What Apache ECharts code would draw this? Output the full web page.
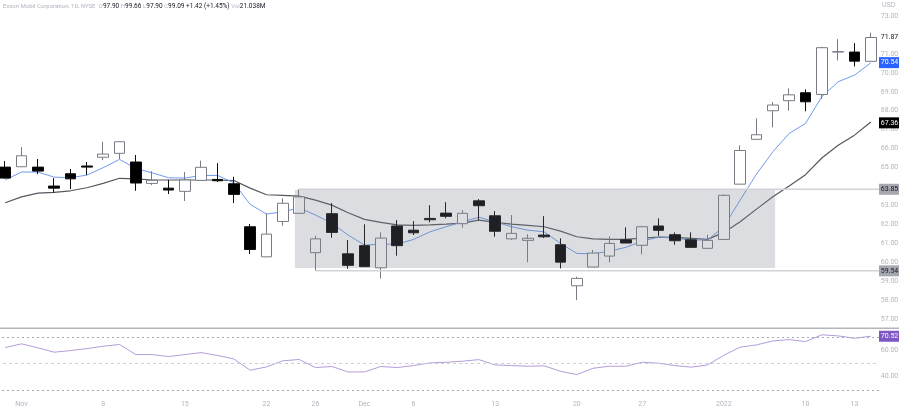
<!DOCTYPE html>
<html>
<head>
<meta charset="utf-8">
<style>
  html, body { margin: 0; padding: 0; background: #fff; }
  #chart { width: 899px; height: 409px; }
</style>
<script src="https://cdn.jsdelivr.net/npm/echarts@6/dist/echarts.min.js"></script>
</head>
<body>
<div id="chart"></div>
<script>
// date labels, one per session, blank where the time axis shows nothing
const dateLabels = ['', 'Nov', '', '', '', '', '8', '', '', '', '', '15', '', '', '', '', '22', '', '', '26', '', '',
  'Dec', '', '', '6', '', '', '', '', '13', '', '', '', '', '20', '', '', '', '27', '', '', '', '', '2022', '', '', '', '', '10', '', '', '13', ''];

const opens = [65.02, 65.04, 65.02, 64.02, 64.67, 65.08, 65.54, 65.75, 65.29, 64.16, 63.91, 63.74, 64.32, 64.37, 64.14, 61.87, 60.28, 62.15,
  62.58, 60.50, 62.56, 60.44, 60.87, 59.70, 61.91, 61.69, 62.31, 62.59, 62.03, 63.24, 62.45, 61.23, 61.15, 61.43, 60.92, 58.75,
  59.74, 60.32, 61.18, 60.89, 61.91, 61.45, 61.18, 60.73, 61.20, 64.12, 66.49, 68.00, 68.53, 68.95, 68.86, 71.10, 71.10, 70.61];
const closes = [64.44, 65.62, 64.81, 63.91, 64.40, 65.02, 65.71, 66.36, 64.18, 64.32, 63.81, 64.34, 65.01, 64.30, 63.58, 60.67, 61.48, 63.11,
  63.45, 61.23, 61.57, 59.83, 59.76, 61.27, 60.87, 61.55, 62.24, 62.42, 62.58, 62.98, 61.63, 61.52, 61.26, 61.34, 60.00, 59.14,
  60.48, 60.99, 61.01, 61.87, 61.68, 61.13, 60.78, 61.15, 63.53, 65.90, 66.73, 68.30, 68.84, 68.47, 71.33, 71.12, 70.62, 71.87];
const lows = [64.40, 65.04, 64.65, 63.67, 63.86, 64.60, 65.39, 65.45, 63.77, 64.07, 63.60, 63.23, 64.32, 64.23, 63.12, 60.43, 60.28, 61.92,
  62.58, 59.54, 61.29, 59.65, 59.76, 59.14, 60.34, 61.43, 62.10, 62.31, 61.82, 62.22, 61.34, 61.18, 59.99, 61.27, 59.67, 57.99,
  59.74, 59.99, 61.01, 60.41, 61.39, 60.92, 60.78, 60.73, 61.20, 64.12, 66.49, 67.12, 68.00, 67.97, 68.62, 70.66, 70.34, 70.61];
const highs = [65.34, 66.08, 65.45, 64.44, 64.92, 65.29, 66.36, 66.36, 65.66, 64.81, 64.34, 64.76, 65.36, 65.23, 64.51, 62.01, 62.58, 63.37,
  63.85, 61.39, 63.12, 61.17, 62.00, 61.57, 62.22, 62.17, 63.01, 63.17, 62.75, 63.33, 62.70, 62.49, 61.47, 62.43, 61.26, 59.23,
  60.64, 61.36, 61.84, 61.91, 62.31, 61.57, 61.57, 61.45, 63.58, 66.17, 67.60, 68.46, 69.18, 69.13, 71.38, 71.78, 71.57, 72.12];

const fastMa = [64.34, 64.76, 64.76, 64.49, 64.46, 64.60, 64.99, 65.43, 64.95, 64.72, 64.46, 64.44, 64.58, 64.58, 64.19, 63.05, 62.54, 62.66,
  62.86, 62.49, 62.05, 61.43, 60.90, 60.95, 60.95, 61.20, 61.60, 61.87, 62.13, 62.37, 62.13, 61.87, 61.69, 61.60, 60.99, 60.46,
  60.44, 60.58, 60.78, 61.11, 61.32, 61.27, 61.17, 61.17, 61.87, 63.28, 64.65, 65.83, 66.80, 67.33, 68.74, 69.53, 69.88, 70.53];
const slowMa = [63.14, 63.45, 63.65, 63.69, 63.77, 63.93, 64.16, 64.43, 64.40, 64.34, 64.34, 64.34, 64.34, 64.34, 64.31, 63.91, 63.56, 63.53,
  63.49, 63.28, 63.01, 62.61, 62.26, 62.10, 61.97, 61.94, 61.97, 62.01, 62.06, 62.22, 62.10, 62.01, 61.94, 61.87, 61.64, 61.34,
  61.23, 61.20, 61.20, 61.27, 61.32, 61.31, 61.26, 61.20, 61.57, 62.13, 62.80, 63.45, 64.02, 64.62, 65.50, 66.18, 66.71, 67.40];
const rsi = [62, 64.8, 61.8, 58.5, 59.7, 61.2, 63, 64.3, 56.7, 56.7, 55.2, 56.7, 58.2, 56, 53.4, 44.9, 47.4, 52,
  53, 46.9, 47.7, 43.6, 43.6, 47.7, 46.9, 48.4, 50.4, 50.9, 51.7, 52.9, 48.9, 48.4, 47.9, 48.2, 44.1, 41.6,
  46.4, 47.9, 47.9, 50.9, 50.2, 48.4, 47.2, 48.9, 56.2, 62.3, 64, 67, 68, 66.5, 71.6, 70.8, 69, 70.52];

const priceTicks = [73, 71, 70, 69, 68, 67, 66, 65, 63, 62, 61, 60, 59, 58, 57];
const rsiTicks = [60, 40];
const rsiLevels = [70, 50, 30];

// session index, price: drawn zone and the two support / resistance levels
const zoneX = [17.74, 47.14];
const zoneY = [63.81, 59.69];
const topLevel = [[18, 63.85], [53.5, 63.85]];
const bottomLevel = [[19, 59.54], [53.5, 59.54]];

const candles = opens.map((o, i) => [o, closes[i], lows[i], highs[i]]);

const tagStyle = { width: 21, height: 11, lineHeight: 11, align: 'center', fontSize: 7, fontFamily: 'Roboto' };
const priceRich = {
  plain: { ...tagStyle, color: '#b2b5be' },
  last: { ...tagStyle, color: '#131722' },
  blue: { ...tagStyle, color: '#fff', backgroundColor: '#2962ff' },
  black: { ...tagStyle, color: '#fff', backgroundColor: '#000' },
  grey: { ...tagStyle, color: '#131722', backgroundColor: '#a6a8b0' },
  purple: { ...tagStyle, color: '#fff', backgroundColor: '#7e57c2' },
};
const priceTags = { 71.87: 'last', 70.54: 'blue', 67.36: 'black', 63.85: 'grey', 59.54: 'grey' };

const chart = echarts.init(document.getElementById('chart'));
chart.setOption({
  animation: false,
  backgroundColor: '#fff',
  title: [
    {
      left: 3,
      top: 3,
      padding: 0,
      text: '{g|Exxon Mobil Corporation, 1D, NYSE}  {g|O}97.90 {g|H}99.66 {g|L}97.90 {g|C}99.09 +1.42 (+1.45%) {g|Vol}21.038M',
      textStyle: {
        fontFamily: 'Roboto',
        fontSize: 6.5,
        fontWeight: 'normal',
        color: '#131722',
        rich: { g: { color: '#b2b5be', fontFamily: 'Roboto', fontSize: 6 } },
      },
    },
    {
      left: 882,
      top: 2,
      padding: 0,
      text: 'USD',
      textStyle: { fontFamily: 'Roboto', fontSize: 7, fontWeight: 'normal', color: '#b2b5be' },
    },
  ],
  // outerBoundsMode off so the grid may start just left of the canvas
  grid: [
    { left: -3, top: 0, width: 882, height: 328, outerBoundsMode: 'none' },
    { left: -3, top: 329, width: 882, height: 66.25, outerBoundsMode: 'none' },
  ],
  xAxis: [
    { type: 'category', gridIndex: 0, data: dateLabels, show: false },
    {
      type: 'category',
      gridIndex: 1,
      data: dateLabels,
      axisLine: { show: false },
      axisTick: { show: false },
      axisLabel: { interval: 0, margin: 5, fontSize: 7, fontFamily: 'Roboto', color: '#b2b5be' },
    },
    // hidden numeric axis on the session index, for things that sit between candles
    { type: 'value', gridIndex: 0, min: -0.5, max: 53.5, show: false },
  ],
  yAxis: [
    {
      type: 'value',
      gridIndex: 0,
      position: 'right',
      min: 56.52,
      max: 73.85,
      splitLine: { show: false },
      axisLine: { show: false },
      axisTick: { show: false },
      axisLabel: {
        customValues: priceTicks.concat([71.87, 70.54, 67.36, 63.85, 59.54]),
        hideOverlap: false,
        margin: 0,
        formatter: (v) => `{${priceTags[v] || 'plain'}|${v.toFixed(2)}}`,
        rich: priceRich,
      },
    },
    {
      type: 'value',
      gridIndex: 1,
      position: 'right',
      min: 26,
      max: 76,
      splitLine: { show: false },
      axisLine: { show: false },
      axisTick: { show: false },
      axisLabel: {
        customValues: rsiTicks.concat([70.52]),
        hideOverlap: false,
        margin: 0,
        formatter: (v) => `{${v === 70.52 ? 'purple' : 'plain'}|${v.toFixed(2)}}`,
        rich: priceRich,
      },
    },
  ],
  series: [
    {
      name: 'slow',
      type: 'line',
      data: slowMa,
      z: 2,
      showSymbol: false,
      lineStyle: { color: '#55585f', width: 1.2 },
    },
    {
      name: 'fast',
      type: 'line',
      data: fastMa,
      z: 2,
      showSymbol: false,
      lineStyle: { color: '#6f9cf0', width: 1 },
    },
    {
      name: 'price',
      type: 'candlestick',
      data: candles,
      z: 3,
      barWidth: 11,
      itemStyle: {
        color: '#fff',
        color0: '#000',
        borderColor: '#787b86',
        borderColor0: '#0c0c0c',
        borderWidth: 1,
      },
    },
    {
      name: 'top level',
      type: 'line',
      xAxisIndex: 2,
      data: topLevel,
      z: 4,
      showSymbol: false,
      lineStyle: { color: '#d1d3d8', width: 1.5 },
    },
    {
      name: 'bottom level',
      type: 'line',
      xAxisIndex: 2,
      data: bottomLevel,
      z: 4,
      showSymbol: false,
      lineStyle: { color: '#d1d3d8', width: 1.5 },
    },
    {
      name: 'zone',
      type: 'line',
      xAxisIndex: 2,
      data: [[zoneX[0], zoneY[0]], [zoneX[1], zoneY[1]]],
      z: 5,
      showSymbol: false,
      lineStyle: { opacity: 0 },
      markArea: {
        silent: true,
        z: 5,
        itemStyle: { color: 'rgba(120,123,134,0.26)' },
        data: [[{ coord: [zoneX[0], zoneY[0]] }, { coord: [zoneX[1], zoneY[1]] }]],
      },
    },
    {
      name: 'RSI',
      type: 'line',
      xAxisIndex: 1,
      yAxisIndex: 1,
      data: rsi,
      showSymbol: false,
      lineStyle: { color: '#b39ddb', width: 1 },
      markLine: {
        silent: true,
        symbol: 'none',
        label: { show: false },
        data: rsiLevels.map((v) => ({
          yAxis: v,
          lineStyle: {
            color: v === 50 ? '#cfd0d4' : '#a9abb2',
            width: 1,
            type: v === 50 ? [3, 3] : [2, 3],
          },
        })),
      },
    },
  ],
  graphic: [
    {
      type: 'rect',
      silent: true,
      shape: { x: 0, y: 327.5, width: 899, height: 1.5 },
      style: { fill: '#b4b5b8' },
    },
  ],
});
</script>
</body>
</html>
